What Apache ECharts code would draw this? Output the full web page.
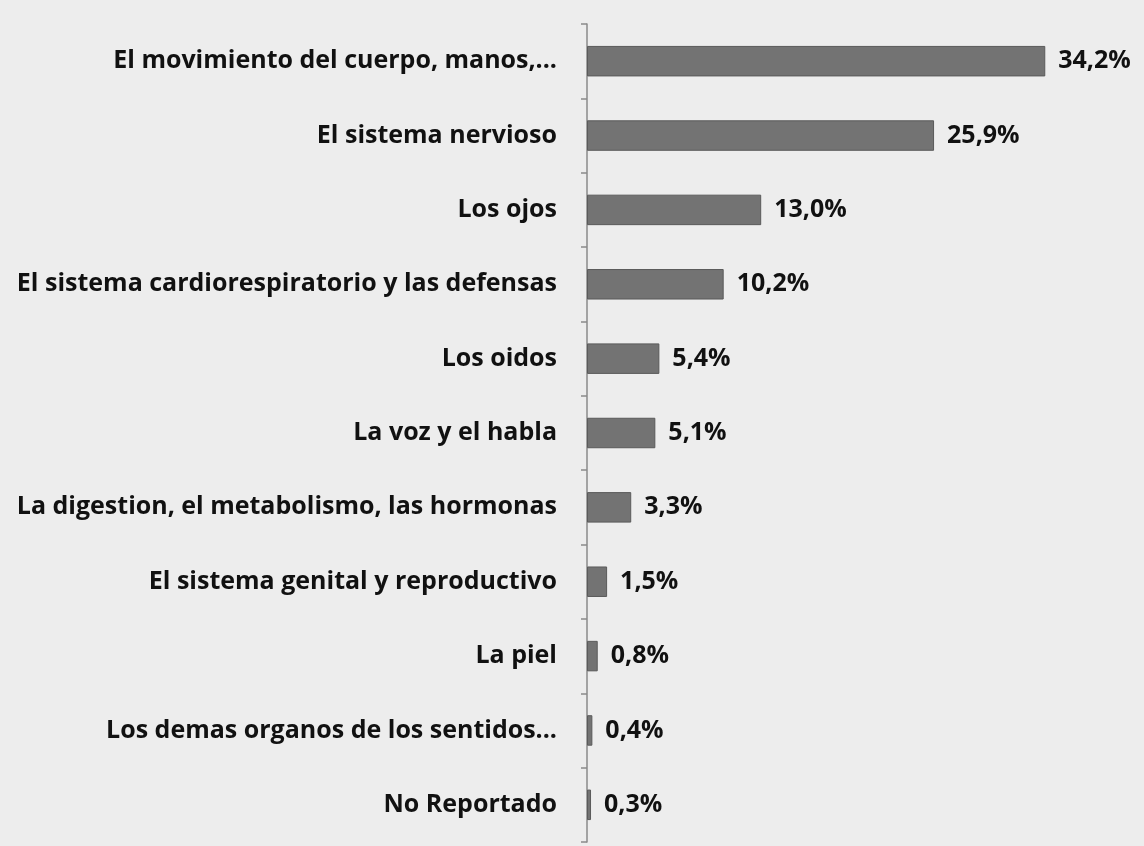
<!DOCTYPE html>
<html>
<head>
<meta charset="utf-8">
<script src="https://cdn.jsdelivr.net/npm/echarts@6/dist/echarts.min.js"></script>
<style>
  html, body { margin: 0; padding: 0; background: #ededed; }
  #chart { width: 1144px; height: 846px; }
</style>
</head>
<body>
<div id="chart"></div>
<script>
// Categories of disability by affected body system, top to bottom
const categories = [
  'El movimiento del cuerpo, manos,...',
  'El sistema nervioso',
  'Los ojos',
  'El sistema cardiorespiratorio y las defensas',
  'Los oidos',
  'La voz y el habla',
  'La digestion, el metabolismo, las hormonas',
  'El sistema genital y reproductivo',
  'La piel',
  'Los demas organos de los sentidos...',
  'No Reportado'
];
// Share of people (%)
const values = [34.2, 25.9, 13.0, 10.2, 5.4, 5.1, 3.3, 1.5, 0.8, 0.4, 0.3];

const fontFamily = '"Open Sans", Lato, sans-serif';
const chart = echarts.init(document.getElementById('chart'));
chart.setOption({
  backgroundColor: '#ededed',
  animation: false,
  grid: { left: 587, right: 21, top: 24, bottom: 4, containLabel: false },
  xAxis: {
    type: 'value', min: 0, max: 40, show: false
  },
  yAxis: {
    type: 'category',
    data: categories,
    inverse: true,
    axisLine: { lineStyle: { color: '#8a8a8a', width: 1.5 } },
    axisTick: { show: true, length: 6, lineStyle: { color: '#8a8a8a', width: 1.5 } },
    axisLabel: {
      margin: 30,
      color: '#111',
      fontFamily: fontFamily,
      fontWeight: 'bold',
      fontSize: 25,
      padding: [4, 0, 0, 0]
    }
  },
  series: [{
    type: 'bar',
    data: values,
    barWidth: '41%',
    itemStyle: { color: '#737373', borderColor: '#5a5a5a', borderWidth: 1 },
    label: {
      show: true,
      position: 'right',
      distance: 13,
      color: '#111',
      fontFamily: fontFamily,
      fontWeight: 'bold',
      fontSize: 25,
      padding: [4, 0, 0, 0],
      formatter: p => p.value.toFixed(1).replace('.', ',') + '%'
    }
  }]
});
</script>
</body>
</html>
